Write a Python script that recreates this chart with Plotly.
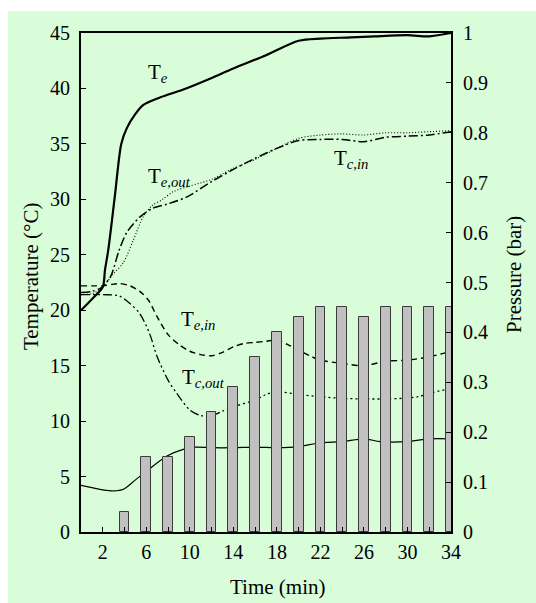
import plotly.graph_objects as go

# ---- data ----
t_te = [0, 1, 2, 2.2, 2.5, 3.1, 3.7, 4.2, 5, 5.7, 7.3, 9.4, 11.9, 14, 17, 20, 22, 24.8, 27, 30, 32, 34]
te = [20.0, 21.0, 22.1, 23.6, 25.4, 30.2, 35.0, 36.4, 37.7, 38.5, 39.2, 39.9, 40.9, 41.8, 43.0, 44.3, 44.5, 44.6, 44.7, 44.8, 44.7, 45.0]

t_cin = [0, 1, 1.8, 2.7, 3.5, 4.2, 5.4, 6.6, 8, 9.7, 12, 14, 16, 18, 20, 22, 24, 26, 28, 30, 32, 34]
tc_in = [21.6, 21.7, 22.0, 23.0, 25.4, 27.0, 28.4, 29.2, 29.6, 30.2, 31.6, 32.7, 33.7, 34.6, 35.3, 35.4, 35.4, 35.2, 35.6, 35.7, 35.8, 36.1]

t_eout = [0, 1, 1.8, 2.9, 3.9, 4.8, 5.7, 6.5, 7.5, 8.5, 10, 12, 14, 16, 18, 20, 22, 24, 26, 28, 30, 32, 34]
te_out = [21.4, 21.5, 21.9, 23.2, 24.3, 26.3, 28.4, 29.4, 30.0, 30.7, 31.2, 31.8, 32.8, 33.6, 34.6, 35.5, 35.8, 35.9, 35.8, 36.0, 36.0, 36.1, 36.2]

t_ein = [0, 1, 2, 3, 3.6, 4.5, 5.4, 6.2, 7, 8, 9, 10, 11, 12, 13, 14, 15, 16, 17, 18, 19, 20, 21, 22, 24, 26, 28, 30, 32, 34]
te_in = [22.2, 22.2, 22.2, 22.35, 22.4, 22.2, 21.7, 20.9, 19.4, 17.8, 16.9, 16.3, 16.0, 15.9, 16.2, 16.7, 17.0, 17.1, 17.2, 17.3, 16.9, 16.4, 15.9, 15.5, 15.2, 15.0, 15.4, 15.5, 15.8, 16.3]

t_cout = [0, 2, 3.5, 4.5, 5.4, 6.3, 7, 8, 8.8, 10, 11, 12, 13, 14, 16, 17, 18, 20, 22, 24, 26, 28, 29.5, 31, 32, 34]
tc_out = [21.4, 21.4, 21.3, 20.6, 19.7, 17.9, 15.8, 13.7, 12.5, 11.0, 10.5, 10.5, 10.9, 11.3, 11.9, 12.4, 12.65, 12.4, 12.2, 12.05, 12.0, 12.0, 12.05, 12.2, 12.5, 12.95]

t_c = [0, 1, 2, 3, 3.9, 5, 6.3, 7.9, 9.4, 10.5, 12, 14, 16, 18, 20, 22, 24, 26, 27.5, 30, 32, 34]
tc = [4.2, 4.0, 3.8, 3.7, 3.85, 4.7, 5.7, 6.85, 7.45, 7.65, 7.6, 7.6, 7.65, 7.6, 7.7, 8.05, 8.15, 8.4, 8.15, 8.15, 8.4, 8.4]

t_p = [4, 6, 8, 10, 12, 14, 16, 18, 20, 22, 24, 26, 28, 30, 32, 34]
pressure = [0.04, 0.15, 0.15, 0.19, 0.24, 0.29, 0.35, 0.40, 0.43, 0.45, 0.45, 0.43, 0.45, 0.45, 0.45, 0.45]

x_ticks = list(range(2, 35, 2))
x_labels = [str(v) if (v - 2) % 4 == 0 else "" for v in x_ticks]
y_ticks = list(range(0, 46, 5))
y2_ticks = [round(0.1 * i, 1) for i in range(11)]
y2_labels = ["0", "0.1", "0.2", "0.3", "0.4", "0.5", "0.6", "0.7", "0.8", "0.9", "1"]

FONT = "Liberation Serif"
BG = "#d8fdd8"

fig = go.Figure()

fig.add_trace(go.Bar(x=t_p, y=pressure, yaxis="y2", width=0.9,
                     marker=dict(color="#c0c0c0", line=dict(color="#3a3a3a", width=1))))

def curve(x, y, dash, width):
    fig.add_trace(go.Scatter(x=x, y=y, mode="lines",
                             line=dict(color="black", width=width, dash=dash, shape="spline", smoothing=0.8)))

curve(t_te, te, "solid", 2.2)
curve(t_eout, te_out, "1px,2px", 1.1)
curve(t_cin, tc_in, "9px,3px,2px,3px", 1.5)
curve(t_ein, te_in, "6px,4px", 1.4)
curve(t_cout, tc_out, "9px,3px,2px,3px,2px,3px", 1.3)
curve(t_c, tc, "solid", 1.2)

labels = [
    (6.0, 41.4, "T<sub><i>e</i></sub>"),
    (6.0, 32.0, "T<sub><i>e,out</i></sub>"),
    (23.1, 33.6, "T<sub><i>c,in</i></sub>"),
    (9.0, 19.1, "T<sub><i>e,in</i></sub>"),
    (9.1, 13.9, "T<sub><i>c,out</i></sub>"),
]
for x, y, txt in labels:
    fig.add_annotation(x=x, y=y, text=txt, showarrow=False, xanchor="left", yanchor="middle",
                       font=dict(family=FONT, size=21, color="black"))

# axis titles
title_font = dict(family=FONT, size=21, color="black")
fig.add_annotation(xref="paper", yref="paper", x=0.53, y=-0.110, text="Time (min)",
                   showarrow=False, font=title_font, xanchor="center", yanchor="middle")
fig.add_annotation(xref="paper", yref="paper", x=-0.135, y=0.511, text="Temperature (°C)",
                   showarrow=False, font=title_font, textangle=-90, xanchor="center", yanchor="middle")
fig.add_annotation(xref="paper", yref="paper", x=1.170, y=0.517, text="Pressure (bar)",
                   showarrow=False, font=title_font, textangle=-90, xanchor="center", yanchor="middle")

fig.add_shape(type="rect", xref="paper", yref="paper", x0=-0.1973, x1=1.23, y0=-0.1423, y1=1.0441,
              fillcolor=BG, line=dict(width=0), layer="below")

fig.update_layout(
    width=536, height=603,
    margin=dict(l=81, r=85, t=33, b=71),
    paper_bgcolor="white", plot_bgcolor="rgba(0,0,0,0)",
    showlegend=False, bargap=0,
    font=dict(family=FONT, size=20, color="black"),
    xaxis=dict(range=[0, 34], tickvals=x_ticks, ticktext=x_labels, ticks="inside", ticklen=5,
               tickcolor="black", showline=True, linecolor="black", linewidth=2, mirror=True,
               showgrid=False, zeroline=False, ticklabelstandoff=1),
    yaxis=dict(range=[0, 45], tickvals=y_ticks, ticks="inside", ticklen=5, tickcolor="black",
               showline=True, linecolor="black", linewidth=2, showgrid=False, zeroline=False,
               ticklabelstandoff=5),
    yaxis2=dict(range=[0, 1], overlaying="y", side="right", tickvals=y2_ticks, ticktext=y2_labels,
                ticks="inside", ticklen=5, tickcolor="black", showline=True, linecolor="black",
                linewidth=2, showgrid=False, zeroline=False, ticklabelstandoff=6),
)

fig.write_html("out.html")
